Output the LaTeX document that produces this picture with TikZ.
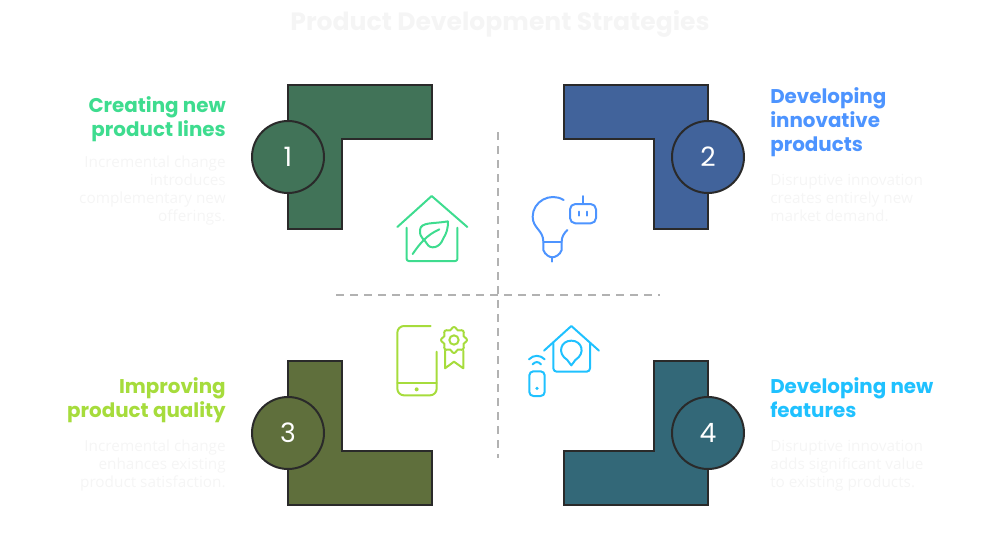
\documentclass[tikz,border=0pt]{standalone}
\usepackage{fontspec}
\setmainfont{Open Sans}
\newfontfamily\headfont{Poppins}
\usepackage{xcolor}
\usetikzlibrary{positioning}
\definecolor{greenink}{HTML}{3EDC8F}
\definecolor{blueink}{HTML}{4D94FF}
\definecolor{limeink}{HTML}{A6DC3C}
\definecolor{cyanink}{HTML}{1FC1FF}
\definecolor{greenfill}{HTML}{417358}
\definecolor{bluefill}{HTML}{41639B}
\definecolor{limefill}{HTML}{5F6F3C}
\definecolor{cyanfill}{HTML}{336878}
\definecolor{edgeink}{HTML}{2A2A2A}
\definecolor{paleink}{HTML}{F5F5F5}
\tikzset{
  lblock/.style={draw=edgeink,line width=1.6pt,line join=miter},
  num/.style={circle,draw=edgeink,line width=1.5pt,minimum size=54pt,inner sep=0pt,text=white,font=\headfont\fontsize{20}{20}\selectfont},
  head/.style={font=\headfont\fontsize{14.9}{18}\selectfont\bfseries,inner sep=0pt},
  body/.style={font=\fontsize{11.5}{13.5}\selectfont,text=paleink,inner sep=0pt},
  icon/.style={line width=1.5pt,line cap=round,line join=round,fill=none},
  gap/.style={draw=black!30,line width=1.2pt,dash pattern=on 6pt off 4.5pt},
}
\begin{document}
\begin{tikzpicture}[x=0.75pt,y=-0.75pt]
    \useasboundingbox (0,0) rectangle (1000,554);

    \node[font=\headfont\fontsize{18.8}{18.8}\selectfont\bfseries,text=paleink,inner sep=0pt] (title) at (500,24) {Product Development Strategies};

    % dashed cross
    \coordinate (vtop) at (498,132);
    \coordinate (vbot) at (498,458);
    \coordinate (hleft) at (336,295);
    \coordinate (hright) at (660,295);
    \draw[gap] (vtop) -- (vbot);
    \draw[gap] (hleft) -- (hright);

    % corner blocks
    \draw[lblock,fill=greenfill] (288,85) -- (432,85) -- (432,139) -- (342,139) -- (342,229) -- (288,229) -- cycle;
    \draw[lblock,fill=bluefill] (564,85) -- (708,85) -- (708,229) -- (654,229) -- (654,139) -- (564,139) -- cycle;
    \draw[lblock,fill=limefill] (288,361) -- (342,361) -- (342,451) -- (432,451) -- (432,505) -- (288,505) -- cycle;
    \draw[lblock,fill=cyanfill] (654,361) -- (708,361) -- (708,505) -- (564,505) -- (564,451) -- (654,451) -- cycle;

    \node[num,fill=greenfill] (one) at (288,157) {1};
    \node[num,fill=bluefill] (two) at (708,157) {2};
    \node[num,fill=limefill] (three) at (288,433) {3};
    \node[num,fill=cyanfill] (four) at (708,433) {4};

    % left texts
    \node[head,text=greenink,align=right,anchor=north east] (newlines) at (226,96) {Creating new\\product lines};
    \node[body,align=right,anchor=north east] (newlinestxt) at (226,156) {Incremental change\\introduces\\complementary new\\offerings.};
    \node[head,text=limeink,align=right,anchor=north east] (quality) at (226,377) {Improving\\product quality};
    \node[body,align=right,anchor=north east] (qualitytxt) at (226,440) {Incremental change\\enhances existing\\product satisfaction.};

    % right texts
    \node[head,text=blueink,align=left,anchor=north west] (innovative) at (770,87) {Developing\\innovative\\products};
    \node[body,align=left,anchor=north west] (innovativetxt) at (770,174) {Disruptive innovation\\creates entirely new\\market demand.};
    \node[head,text=cyanink,align=left,anchor=north west] (features) at (770,377) {Developing new\\features};
    \node[body,align=left,anchor=north west] (featurestxt) at (770,440) {Disruptive innovation\\adds significant value\\to existing products.};

    % leaf house
    \begin{scope}[shift={(380,180)},scale=1/3,icon,draw=greenink]
        \draw (52,141) -- (155,48) -- (262,141);
        \draw[rounded corners=1.5pt] (80,143) -- (80,243) -- (232,243) -- (232,143);
        \draw (204,124) .. controls (160,132) and (122,125) .. (120,150) .. controls (118,175) and (135,178) .. (140,190) .. controls (150,210) and (180,205) .. (190,175) .. controls (200,160) and (204,145) .. (204,124);
        \draw (98,222) .. controls (120,190) and (140,165) .. (178,148);
    \end{scope}

    % bulb with robot head
    \begin{scope}[shift={(380,180)},scale=1/3,icon,draw=blueink]
        \draw (551,60) .. controls (510,35) and (458,65) .. (458,110) .. controls (458,145) and (490,150) .. (490,185) -- (490,210) .. controls (495,225) and (510,232) .. (517,232) .. controls (525,232) and (540,225) .. (545,210) -- (545,185) .. controls (545,170) and (552,160) .. (562,150);
        \draw (490,185) -- (545,185);
        \draw (517,232) -- (517,245);
        \draw[rounded corners=4pt] (570,72) rectangle (648,130);
        \draw (609,48) -- (609,72);
        \draw (597,95) -- (597,107);
        \draw (622,95) -- (622,107);
    \end{scope}

    % phone with rosette
    \begin{scope}[shift={(380,310)},scale=1/3,icon,draw=limeink]
        \draw[rounded corners=5pt] (152,48) -- (52,48) -- (52,256) -- (170,256) -- (170,125);
        \draw (52,218) -- (170,218);
        \fill[limeink] (110,238) circle (4.5pt);
        \draw (222,90) circle (14);
        \draw plot[smooth cycle,samples=48,domain=0:352.5,variable=\t] ({222+(35+4*cos(8*\t))*cos(\t)},{90+(35+4*cos(8*\t))*sin(\t)});
        \draw (195,122) -- (195,175) -- (222,155) -- (250,175) -- (250,122);
    \end{scope}

    % home with phone
    \begin{scope}[shift={(380,310)},scale=1/3,icon,draw=cyanink]
        \draw (492,122) -- (574,48) -- (657,122);
        \draw[rounded corners=2.5pt] (520,100) -- (520,185) -- (630,185) -- (630,100);
        \draw (562,150) .. controls (530,130) and (542,92) .. (574,92) .. controls (606,92) and (618,130) .. (586,150) .. controls (584,156) and (578,158) .. (574,166) .. controls (570,158) and (564,156) .. (562,150) -- cycle;
        \draw[rounded corners=3pt] (448,184) rectangle (494,258);
        \fill[cyanink] (471,235) circle (4pt);
        \draw (447,148) .. controls (460,134) and (481,134) .. (494,148);
        \draw (458,163) .. controls (465,154) and (476,154) .. (483,163);
    \end{scope}
\end{tikzpicture}
\end{document}
